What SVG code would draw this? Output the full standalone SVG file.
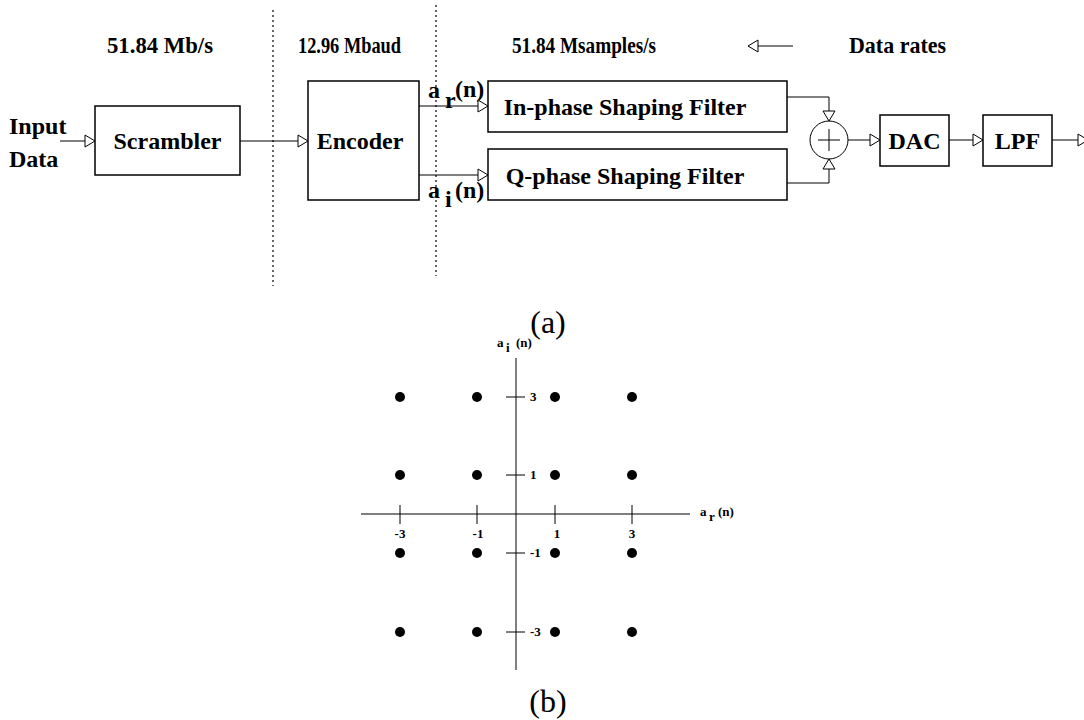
<svg xmlns="http://www.w3.org/2000/svg" width="1084" height="720" viewBox="0 0 1084 720">
<style>
.box{fill:#fff;stroke:#000;stroke-width:1.5}
.ln{fill:none;stroke:#000;stroke-width:1}
.dot{fill:none;stroke:#000;stroke-width:1.2;stroke-dasharray:2,3}
.t{font-family:"Liberation Serif","Times New Roman",serif;font-weight:bold;font-size:24px;fill:#000}
.h{font-family:"Liberation Serif","Times New Roman",serif;font-weight:bold;font-size:24px;fill:#000}
.s{font-family:"Liberation Serif","Times New Roman",serif;font-weight:bold;font-size:13px;fill:#000}
.cap{font-family:"Liberation Serif","Times New Roman",serif;font-size:32px;fill:#000}
.pt{fill:#000}
</style>
<defs>
<marker id="arr" markerUnits="userSpaceOnUse" markerWidth="14" markerHeight="14" viewBox="0 0 14 14" refX="12" refY="7" orient="auto">
<path d="M2,1 L12,7 L2,13 Z" fill="#fff" stroke="#000" stroke-width="1"/>
</marker>
</defs>

<g id="rates">
<text class="h" x="107" y="53" textLength="106" lengthAdjust="spacingAndGlyphs">51.84  Mb/s</text>
<text class="h" x="298" y="53" textLength="103" lengthAdjust="spacingAndGlyphs">12.96  Mbaud</text>
<text class="h" x="512" y="53" textLength="144" lengthAdjust="spacingAndGlyphs">51.84 Msamples/s</text>
<text class="h" x="849" y="53" textLength="97" lengthAdjust="spacingAndGlyphs">Data rates</text>
</g>

<g id="dividers">
<line class="dot" x1="273" y1="10" x2="273" y2="286"/>
<line class="dot" x1="436" y1="5" x2="436" y2="276"/>
</g>

<g id="input-label">
<text class="t" x="9" y="134">Input</text>
<text class="t" x="9" y="167">Data</text>
</g>

<g id="scrambler">
<rect class="box" x="95" y="106" width="145" height="69"/>
<text class="t" x="167.5" y="149" text-anchor="middle">Scrambler</text>
</g>

<g id="encoder">
<rect class="box" x="308" y="81" width="111" height="119"/>
<text class="t" x="360" y="149" text-anchor="middle">Encoder</text>
</g>

<g id="inphase">
<rect class="box" x="488" y="81" width="299" height="51"/>
<text class="t" x="625" y="115" text-anchor="middle">In-phase Shaping Filter</text>
</g>

<g id="qphase">
<rect class="box" x="488" y="149" width="299" height="51"/>
<text class="t" x="625" y="184" text-anchor="middle">Q-phase Shaping Filter</text>
</g>

<g id="summer">
<circle cx="829" cy="140" r="19" fill="#fff" stroke="#000" stroke-width="1"/>
<line class="ln" x1="818" y1="140" x2="840" y2="140" stroke-width="1.5"/>
<line class="ln" x1="829" y1="129" x2="829" y2="151" stroke-width="1.5"/>
</g>

<g id="dac">
<rect class="box" x="880" y="115" width="69" height="51"/>
<text class="t" x="914.5" y="149" text-anchor="middle">DAC</text>
</g>

<g id="lpf">
<rect class="box" x="983" y="115" width="69" height="51"/>
<text class="t" x="1017.5" y="149" text-anchor="middle">LPF</text>
</g>

<g id="signal-labels">
<text class="t" x="428" y="98">a</text>
<text class="t" x="445" y="108">r</text>
<text class="t" x="455" y="97">(n)</text>
<text class="t" x="428" y="198">a</text>
<text class="t" x="445" y="207">i</text>
<text class="t" x="455" y="198">(n)</text>
</g>

<g id="connectors">
<line class="ln" x1="60" y1="141" x2="95" y2="141" marker-end="url(#arr)"/>
<line class="ln" x1="240" y1="141" x2="308" y2="141" marker-end="url(#arr)"/>
<line class="ln" x1="419" y1="106" x2="488" y2="106" marker-end="url(#arr)"/>
<line class="ln" x1="419" y1="175" x2="488" y2="175" marker-end="url(#arr)"/>
<polyline class="ln" points="787,97 829,97 829,121" marker-end="url(#arr)"/>
<polyline class="ln" points="787,183 829,183 829,159" marker-end="url(#arr)"/>
<line class="ln" x1="848" y1="140" x2="880" y2="140" marker-end="url(#arr)"/>
<line class="ln" x1="949" y1="140" x2="983" y2="140" marker-end="url(#arr)"/>
<line class="ln" x1="1052" y1="140" x2="1088" y2="140" marker-end="url(#arr)"/>
<line class="ln" x1="793" y1="46" x2="748" y2="46" marker-end="url(#arr)"/>
</g>

<text class="cap" x="548" y="333" text-anchor="middle">(a)</text>

<g id="constellation">
<line class="ln" x1="516" y1="358" x2="516" y2="670"/>
<line class="ln" x1="361" y1="514" x2="690" y2="514"/>
<g class="ln">
<line x1="400" y1="505" x2="400" y2="524"/>
<line x1="477" y1="505" x2="477" y2="524"/>
<line x1="555" y1="505" x2="555" y2="524"/>
<line x1="632" y1="505" x2="632" y2="524"/>
<line x1="506" y1="397" x2="525" y2="397"/>
<line x1="506" y1="475" x2="525" y2="475"/>
<line x1="506" y1="553" x2="525" y2="553"/>
<line x1="506" y1="632" x2="525" y2="632"/>
</g>
<g class="s" text-anchor="middle">
<text x="400" y="538">-3</text>
<text x="478" y="538">-1</text>
<text x="557" y="538">1</text>
<text x="632" y="538">3</text>
</g>
<g class="s">
<text x="530" y="401">3</text>
<text x="530" y="479">1</text>
<text x="530" y="557">-1</text>
<text x="530" y="636">-3</text>
</g>
<text class="s" x="497" y="347">a</text>
<text class="s" x="506" y="352">i</text>
<text class="s" x="516" y="347">(n)</text>
<text class="s" x="700" y="516">a</text>
<text class="s" x="709" y="521">r</text>
<text class="s" x="718" y="516">(n)</text>
<g class="pt">
<circle cx="400" cy="397" r="5"/><circle cx="477" cy="397" r="5"/><circle cx="555" cy="397" r="5"/><circle cx="632" cy="397" r="5"/>
<circle cx="400" cy="475" r="5"/><circle cx="477" cy="475" r="5"/><circle cx="555" cy="475" r="5"/><circle cx="632" cy="475" r="5"/>
<circle cx="400" cy="553" r="5"/><circle cx="477" cy="553" r="5"/><circle cx="555" cy="553" r="5"/><circle cx="632" cy="553" r="5"/>
<circle cx="400" cy="632" r="5"/><circle cx="477" cy="632" r="5"/><circle cx="555" cy="632" r="5"/><circle cx="632" cy="632" r="5"/>
</g>
</g>

<text class="cap" x="548" y="712" text-anchor="middle">(b)</text>
</svg>
